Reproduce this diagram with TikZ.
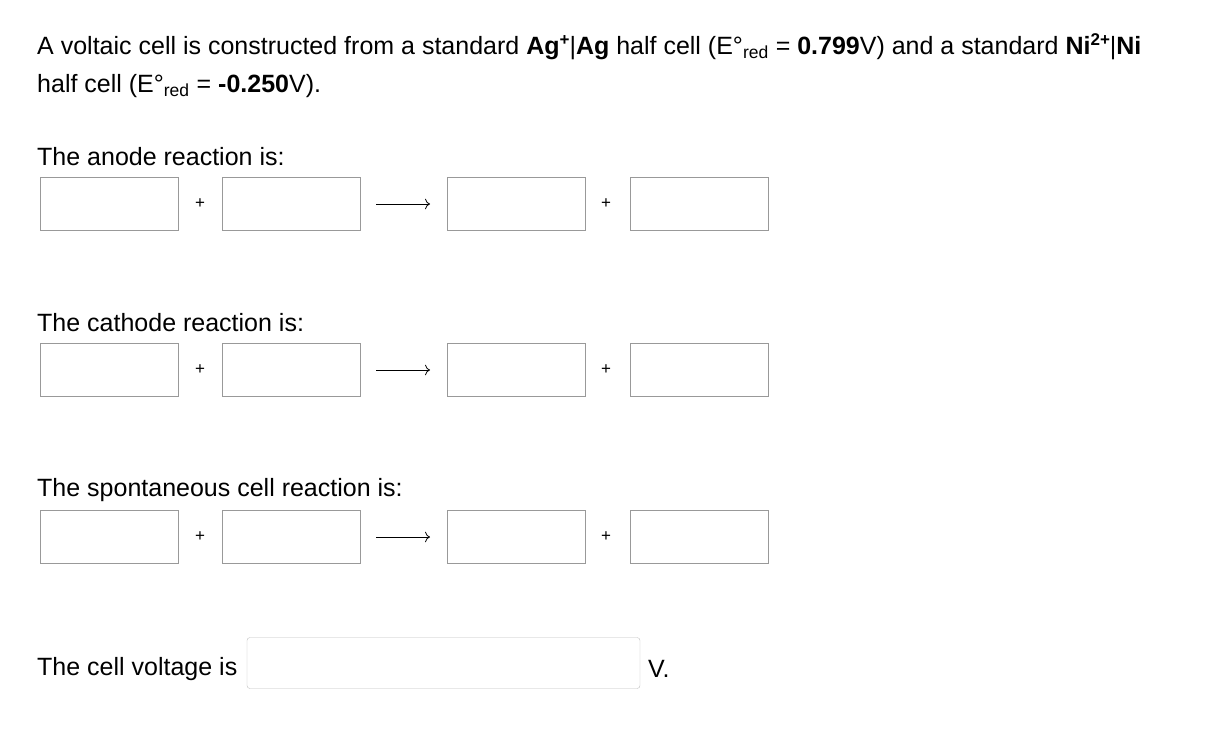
\documentclass[tikz,border=0pt]{standalone}
\usepackage{fontspec}
\setmainfont{Liberation Sans}
\usetikzlibrary{arrows.meta}
\tikzset{
  ansbox/.style={draw=black!40, fill=white, minimum width=138pt, minimum height=53pt, inner sep=0pt},
  plus/.style={font=\fontsize{17}{20}\selectfont},
  txt/.style={anchor=west, inner sep=0pt, font=\fontsize{25}{30}\selectfont}
}
\newcommand{\rxnrow}[2]{%
  \node[ansbox] (#1a) at (109,#2) {};
  \node[plus] (#1p) at (200,#2) {+};
  \node[ansbox] (#1b) at (291,#2) {};
  \coordinate (#1s) at (376,#2);
  \coordinate (#1e) at (430,#2);
  \draw[-{To[length=5pt]}, thick] (#1s) -- (#1e);
  \node[ansbox] (#1c) at (516,#2) {};
  \node[plus] (#1q) at (606,#2) {+};
  \node[ansbox] (#1d) at (699,#2) {};
}
\newcommand{\highsup}[1]{\raisebox{9pt}{\fontsize{17}{20}\selectfont\textbf{#1}}}
\begin{document}
\begin{tikzpicture}[x=1pt,y=-1pt]
    \useasboundingbox (0,0) rectangle (1220,732);
    % question text
    \node[txt] (line1) at (37,47) {A voltaic cell is constructed from a standard \textbf{Ag}\highsup{+}|\textbf{Ag} half cell (E°\textsubscript{red} = \textbf{0.799}V) and a standard \textbf{Ni}\highsup{2+}|\textbf{Ni}};
    \node[txt] (line2) at (37,86) {half cell (E°\textsubscript{red} = \textbf{-0.250}V).};
    % anode
    \node[txt] (anode) at (37,157) {The anode reaction is:};
    \rxnrow{an}{204}
    % cathode
    \node[txt] (cathode) at (37,323) {The cathode reaction is:};
    \rxnrow{ca}{370}
    % cell reaction
    \node[txt] (spont) at (37,490) {The spontaneous cell reaction is:};
    \rxnrow{sp}{537}
    % voltage
    \node[txt] (volt) at (37,669) {The cell voltage is};
    \node[draw=black!25, fill=white, rounded corners=3pt, minimum width=393pt, minimum height=51pt, inner sep=0pt] (vbox) at (443.5,663) {};
    \node[txt] (unit) at (648,669) {V.};
\end{tikzpicture}
\end{document}
